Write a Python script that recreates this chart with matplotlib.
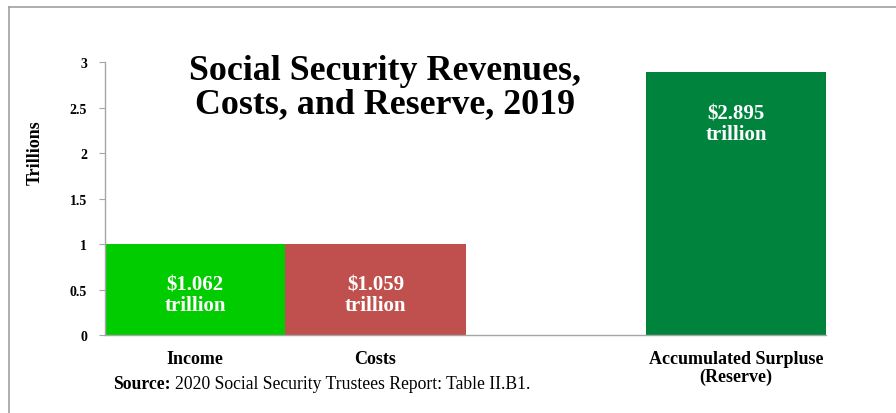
import matplotlib
matplotlib.use('Agg')
import matplotlib.pyplot as plt
from matplotlib.lines import Line2D

plt.rcParams['font.family'] = ['Liberation Serif', 'DejaVu Serif']

# veri
kategoriler = ['Income', 'Costs', '', 'Accumulated Surpluse\n(Reserve)']
yukseklikler = [1.0, 1.0, 0.0, 2.895]
etiketler = ['$1.062\ntrillion', '$1.059\ntrillion', '', '$2.895\ntrillion']
etiket_y = [0.44, 0.44, 0.0, 2.32]
renkler = ['#00CC00', '#C0504D', '#FFFFFF', '#00843D']
y_ticks = [0, 0.5, 1, 1.5, 2, 2.5, 3]
y_tick_labels = ['0', '0.5', '1', '1.5', '2', '2.5', '3']

fig = plt.figure(figsize=(8.96, 4.14), dpi=100)
ax = fig.add_axes([0.1172, 0.1884, 0.8047, 0.6594])

x = range(len(kategoriler))
ax.bar(x, yukseklikler, width=1.0, color=renkler)

for i, txt in enumerate(etiketler):
    if txt:
        ax.text(i, etiket_y[i], txt, ha='center', va='center', color='white',
                fontsize=15, fontweight='bold', linespacing=1.0)

ax.set_xlim(-0.5, 3.5)
ax.set_ylim(0, 3)
ax.set_yticks(y_ticks)
ax.set_yticklabels(y_tick_labels, fontsize=10, fontweight='bold')
ax.set_xticks([0, 1, 3])
ax.set_xticklabels([kategoriler[0], kategoriler[1], kategoriler[3]],
                   fontsize=13, fontweight='bold', linespacing=1.0)
ax.tick_params(axis='x', length=0, pad=11)
ax.tick_params(axis='y', length=4, color='#A6A6A6', pad=9)

for s in ['top', 'right']:
    ax.spines[s].set_visible(False)
for s in ['left', 'bottom']:
    ax.spines[s].set_color('#A6A6A6')
    ax.spines[s].set_linewidth(1.0)

ax.set_ylabel('Trillions', fontsize=13, fontweight='bold')
ax.yaxis.set_label_coords(-0.085, 0.67)

ax.text(0.43, 1 - 88 / 414, 'Social Security Revenues,\nCosts, and Reserve, 2019',
        transform=fig.transFigure, ha='center', va='center',
        fontsize=25.8, fontweight='bold', linespacing=1.0)

# kaynak
kaynak_y = 1 - 385 / 414
t1 = fig.text(113 / 896, kaynak_y, 'Source:', fontsize=12.7, fontweight='bold',
              ha='left', va='center')
fig.canvas.draw()
bb = t1.get_window_extent()
fig.text((bb.x1 + 4) / 896, kaynak_y, '2020 Social Security Trustees Report: Table II.B1.',
         fontsize=12.7, ha='left', va='center')

# çerçeve
fig.add_artist(Line2D([9 / 896, 1], [1 - 8 / 414, 1 - 8 / 414],
                      transform=fig.transFigure, color='#A0A0A0', lw=1.2))
fig.add_artist(Line2D([9 / 896, 9 / 896], [0, 1 - 8 / 414],
                      transform=fig.transFigure, color='#A0A0A0', lw=1.2))

fig.savefig('out.png', dpi=100)
